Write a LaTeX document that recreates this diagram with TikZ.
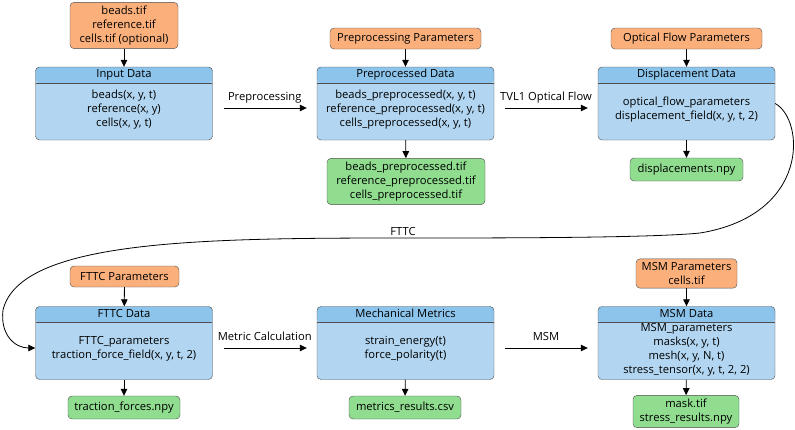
\documentclass[tikz,border=0pt]{standalone}
\usepackage{fontspec}
\setmainfont{Open Sans}
\usetikzlibrary{arrows.meta}

\definecolor{paramorange}{HTML}{FBB07C}
\definecolor{outgreen}{HTML}{90DD90}
\definecolor{headblue}{HTML}{8DC4EB}
\definecolor{bodyblue}{HTML}{B2D6F1}
\definecolor{edgegray}{HTML}{4D4D4D}

\begin{document}
\begin{tikzpicture}[
  x=1pt, y=-1pt,
  font=\fontsize{11.2}{14}\selectfont,
  param/.style={rectangle, rounded corners=4pt, draw=edgegray, fill=paramorange, align=center, inner xsep=3pt, inner ysep=3.5pt, minimum height=21pt},
  output/.style={param, fill=outgreen, minimum height=23pt},
  data/.style={rectangle, rounded corners=4pt, draw=edgegray, fill=bodyblue, minimum width=177pt, minimum height=73pt,
    path picture={
      \fill[headblue] (path picture bounding box.north west) rectangle ([yshift=-16pt]path picture bounding box.north east);
      \draw[edgegray] ([yshift=-16pt]path picture bounding box.north west) -- ([yshift=-16pt]path picture bounding box.north east);}},
  headtext/.style={inner sep=0pt, text height=8pt, text depth=2.6pt},
  vars/.style={align=center, inner sep=0pt},
  arrow/.style={->, >={Triangle[length=7pt, width=6.5pt]}, line width=0.8pt},
  edgetext/.style={text height=8pt, text depth=2.6pt}
]
\useasboundingbox (0,0) rectangle (795,429);

% Top row: input, preprocessing, optical flow
\node[param, minimum width=108pt] (infiles) at (124,25.5) {beads.tif\\reference.tif\\cells.tif (optional)};
\node[data] (input) at (124,103.5) {};
\node[headtext] (inputhead) at ([yshift=-8pt]input.north) {Input Data};
\node[vars] (inputvars) at ([yshift=-6pt]input.center) {beads(x, y, t)\\reference(x, y)\\cells(x, y, t)};

\node[param, minimum width=151pt] (prepparams) at (405.5,38.5) {Preprocessing Parameters};
\node[data] (prep) at (405.5,103.5) {};
\node[headtext] (prephead) at ([yshift=-8pt]prep.north) {Preprocessed Data};
\node[vars] (prepvars) at ([yshift=-6pt]prep.center) {beads\_preprocessed(x, y, t)\\reference\_preprocessed(x, y, t)\\cells\_preprocessed(x, y, t)};
\node[output, minimum width=158pt] (prepfiles) at (406,181.5) {beads\_preprocessed.tif\\reference\_preprocessed.tif\\cells\_preprocessed.tif};

\node[param, minimum width=151pt] (flowparams) at (686.5,38.5) {Optical Flow Parameters};
\node[data] (disp) at (686.5,103.5) {};
\node[headtext] (disphead) at ([yshift=-8pt]disp.north) {Displacement Data};
\node[vars] (dispvars) at ([yshift=-6pt]disp.center) {optical\_flow\_parameters\\displacement\_field(x, y, t, 2)};
\node[output, minimum width=113pt] (dispfiles) at (686.5,169.5) {displacements.npy};

% Bottom row: FTTC, metrics, MSM
\node[param, minimum width=109pt] (fttcparams) at (124.5,276.5) {FTTC Parameters};
\node[data] (fttc) at (124,343) {};
\node[headtext] (fttchead) at ([yshift=-8pt]fttc.north) {FTTC Data};
\node[vars] (fttcvars) at ([yshift=-6pt]fttc.center) {FTTC\_parameters\\traction\_force\_field(x, y, t, 2)};
\node[output, minimum width=112pt] (fttcfiles) at (124,407.5) {traction\_forces.npy};

\node[data] (metrics) at (405.5,343) {};
\node[headtext] (metricshead) at ([yshift=-8pt]metrics.north) {Mechanical Metrics};
\node[vars] (metricsvars) at ([yshift=-6pt]metrics.center) {strain\_energy(t)\\force\_polarity(t)};
\node[output, minimum width=112pt] (metricsfiles) at (405,407.5) {metrics\_results.csv};

\node[param, minimum width=101pt] (msmparams) at (686.5,273.5) {MSM Parameters\\cells.tif};
\node[data] (msm) at (686.5,343) {};
\node[headtext] (msmhead) at ([yshift=-8pt]msm.north) {MSM Data};
\node[vars] (msmvars) at ([yshift=-7pt]msm.center) {MSM\_parameters\\masks(x, y, t)\\mesh(x, y, N, t)\\stress\_tensor(x, y, t, 2, 2)};
\node[output, minimum width=106pt] (msmfiles) at (686,411.5) {mask.tif\\stress\_results.npy};

% Inputs and outputs
\draw[arrow] (infiles) -- (input);
\draw[arrow] (prepparams) -- (prep);
\draw[arrow] (prep) -- (prepfiles);
\draw[arrow] (flowparams) -- (disp);
\draw[arrow] (disp) -- (dispfiles);
\draw[arrow] (fttcparams) -- (fttc);
\draw[arrow] (fttc) -- (fttcfiles);
\draw[arrow] (metrics) -- (metricsfiles);
\draw[arrow] (msmparams) -- (msm);
\draw[arrow] (msm) -- (msmfiles);

% Processing steps
\draw[arrow, shorten <=11pt, shorten >=10pt] ([yshift=-4.5pt]input.east) -- node[edgetext, above=1.5pt] {Preprocessing} ([yshift=-4.5pt]prep.west);
\draw[arrow, shorten <=11pt, shorten >=10pt] ([yshift=-4.5pt]prep.east) -- node[edgetext, above=1.5pt] {TVL1 Optical Flow} ([yshift=-4.5pt]disp.west);
\draw[arrow, shorten <=11pt, shorten >=10pt] ([yshift=-5pt]fttc.east) -- node[edgetext, above=1.5pt] {Metric Calculation} ([yshift=-5pt]metrics.west);
\draw[arrow, shorten <=11pt, shorten >=10pt] ([yshift=-5pt]metrics.east) -- node[edgetext, above=1.5pt] {MSM} ([yshift=-5pt]msm.west);

% FTTC wraps round to the second row
\coordinate (fttcbend) at (403,238);
\draw[arrow] (disp.east) .. controls (805,120) and (810,215) .. (700,233)
  .. controls (650,238) and (500,238) .. (fttcbend) node[edgetext, anchor=base, yshift=2.5pt] {FTTC}
  .. controls (200,238) and (20,240) .. (3,310)
  .. controls (0,335) and (15,348) .. ([yshift=-5pt]fttc.west);

\end{tikzpicture}
\end{document}
